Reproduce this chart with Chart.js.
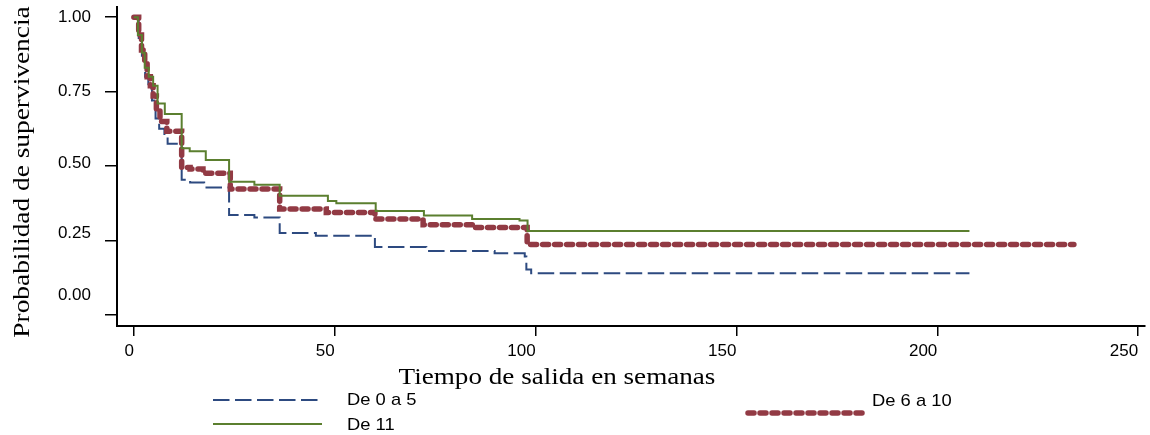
<!DOCTYPE html>
<html>
<head>
<meta charset="utf-8">
<script src="https://cdn.jsdelivr.net/npm/chart.js@4.4.1/dist/chart.umd.min.js"></script>
<style>
    html, body { margin: 0; padding: 0; background: #fff; }
    #wrap { width: 1150px; height: 435px; }
</style>
</head>
<body>
<div id="wrap"><canvas id="km" width="1150" height="435"></canvas></div>
<script>
/* ================== DATA ================== */
const groupNames = ["De 0 a 5", "De 6 a 10", "De 11"];

// De 0 a 5
const timeLow = [0, 1.2, 2.0, 2.8, 3.6, 4.5, 5.4, 6.3, 7.6, 8.4, 11.9, 14.0, 17.5, 23.7, 30.0, 36.3, 45.3, 60.0, 72.8, 89.8, 97.3, 97.7, 98.9, 208];
const survLow = [1, 0.93, 0.87, 0.80, 0.76, 0.72, 0.66, 0.625, 0.60, 0.575, 0.454, 0.445, 0.428, 0.336, 0.327, 0.275, 0.266, 0.228, 0.215, 0.207, 0.196, 0.153, 0.14, 0.14];

// De 6 a 10
const timeMid = [0, 1.2, 1.9, 2.7, 3.3, 4.1, 4.8, 5.6, 6.5, 8.2, 11.9, 14.0, 17.2, 24.0, 36.3, 47.9, 60.0, 72.0, 84.8, 97.9, 234];
const survMid = [1, 0.94, 0.89, 0.85, 0.80, 0.77, 0.735, 0.685, 0.65, 0.617, 0.495, 0.49, 0.476, 0.423, 0.356, 0.344, 0.322, 0.303, 0.294, 0.237, 0.237];

// De 11
const timeHigh = [0, 1.0, 2.0, 2.7, 3.7, 4.8, 5.9, 7.7, 11.9, 13.9, 17.9, 23.7, 30.0, 36.3, 48.3, 50.4, 60.2, 72.2, 84.2, 96.0, 98.0, 208];
const survHigh = [1, 0.94, 0.88, 0.83, 0.80, 0.77, 0.71, 0.675, 0.56, 0.55, 0.52, 0.447, 0.437, 0.40, 0.383, 0.375, 0.349, 0.334, 0.322, 0.317, 0.282, 0.282];

const xTickValues = [0, 50, 100, 150, 200, 250];
const yTickValues = [0, 0.25, 0.5, 0.75, 1];
const xTitle = "Tiempo de salida en semanas";
const yTitle = "Probabilidad de supervivencia";

/* ================== HELPERS ================== */
const pairs = (ts, ss) => ts.map((t, i) => ({ x: t, y: ss[i] }));

// the exported figure drifts its y labels upward near the bottom
const yLabelShift = [-20, -7, -3, 0, 0];

// text with a horizontal stretch, like the exported figure
function stretchText(ctx, text, x, y, font, sx, align, angle) {
    ctx.save();
    ctx.translate(x, y);
    if (angle) ctx.rotate(angle);
    ctx.scale(sx, 1);
    ctx.font = font;
    ctx.fillStyle = "#000";
    ctx.textAlign = align;
    ctx.textBaseline = "middle";
    ctx.fillText(text, 0, 0);
    ctx.restore();
}

/* ================== TITLES + LEGEND ================== */
const legendSpots = [
    { ds: 0, x1: 213, x2: 318, y: 400, tx: 347, ty: 400 },
    { ds: 2, x1: 213, x2: 322, y: 424, tx: 347, ty: 425 },
    { ds: 1, x1: 748, x2: 862, y: 413, tx: 872, ty: 401 }
];

const sansFont = "'Liberation Sans', Arial, sans-serif";

const decorPlugin = {
    id: "decor",
    afterDraw(chart) {
        const ctx = chart.ctx;
        const yScale = chart.scales.y;

        yTickValues.forEach((v, i) => {
            const py = yScale.getPixelForValue(v) + yLabelShift[i];
            stretchText(ctx, v.toFixed(2), 91, py, "17px " + sansFont, 1.0, "right", 0);
        });

        stretchText(ctx, xTitle, 557, 378, "24px 'Liberation Serif', 'Times New Roman', serif", 1.13, "center", 0);
        stretchText(ctx, yTitle, 23, 172, "23px 'Liberation Serif', 'Times New Roman', serif", 1.19, "center", -Math.PI / 2);

        legendSpots.forEach(spot => {
            const ds = chart.data.datasets[spot.ds];
            ctx.save();
            ctx.strokeStyle = ds.borderColor;
            ctx.lineWidth = ds.borderWidth;
            ctx.lineCap = ds.borderCapStyle || "butt";
            ctx.setLineDash(ds.borderDash || []);
            ctx.beginPath();
            ctx.moveTo(spot.x1, spot.y);
            ctx.lineTo(spot.x2, spot.y);
            ctx.stroke();
            ctx.restore();
            stretchText(ctx, ds.label, spot.tx, spot.ty, "17px " + sansFont, 1.08, "left", 0);
        });
    }
};

/* ================== CHART ================== */
const tickFont = { family: sansFont, size: 17 };

new Chart(document.getElementById("km"), {
    type: "line",
    data: {
        datasets: [
            {
                label: groupNames[0],
                data: pairs(timeLow, survLow),
                borderColor: "#2d4a80",
                borderWidth: 2,
                borderDash: [16.5, 5.5],
                stepped: "before",
                pointRadius: 0,
                order: 2
            },
            {
                label: groupNames[1],
                data: pairs(timeMid, survMid),
                borderColor: "#923a44",
                borderWidth: 5.5,
                borderDash: [6, 6],
                borderCapStyle: "round",
                stepped: "before",
                pointRadius: 0,
                order: 1
            },
            {
                label: groupNames[2],
                data: pairs(timeHigh, survHigh),
                borderColor: "#5b7f2f",
                borderWidth: 2,
                stepped: "before",
                pointRadius: 0,
                order: 0
            }
        ]
    },
    options: {
        responsive: false,
        animation: false,
        layout: { padding: { left: 0, right: 5, top: 7, bottom: 0 } },
        plugins: { legend: { display: false }, tooltip: { enabled: false } },
        scales: {
            x: {
                type: "linear",
                min: -4.2,
                max: 251.7,
                afterBuildTicks: s => { s.ticks = xTickValues.map(v => ({ value: v })); },
                afterFit: s => { s.height = 109; s.paddingLeft = 0; s.paddingRight = 0; },
                grid: { display: true, drawOnChartArea: false, drawTicks: true, tickLength: 10, color: "#000", lineWidth: 1.5 },
                border: { display: true, color: "#000", width: 2 },
                ticks: { align: "end", padding: 5, color: "#000", font: tickFont, maxRotation: 0, autoSkip: false, callback: v => String(v) }
            },
            y: {
                min: -0.037,
                max: 1.034,
                afterBuildTicks: s => { s.ticks = yTickValues.map(v => ({ value: v })); },
                afterFit: s => { s.width = 117; s.paddingTop = 0; s.paddingBottom = 0; },
                grid: { display: true, drawOnChartArea: false, drawTicks: true, tickLength: 12, color: "#000", lineWidth: 1.5 },
                border: { display: true, color: "#000", width: 2 },
                ticks: { display: false }
            }
        }
    },
    plugins: [decorPlugin]
});
</script>
</body>
</html>
